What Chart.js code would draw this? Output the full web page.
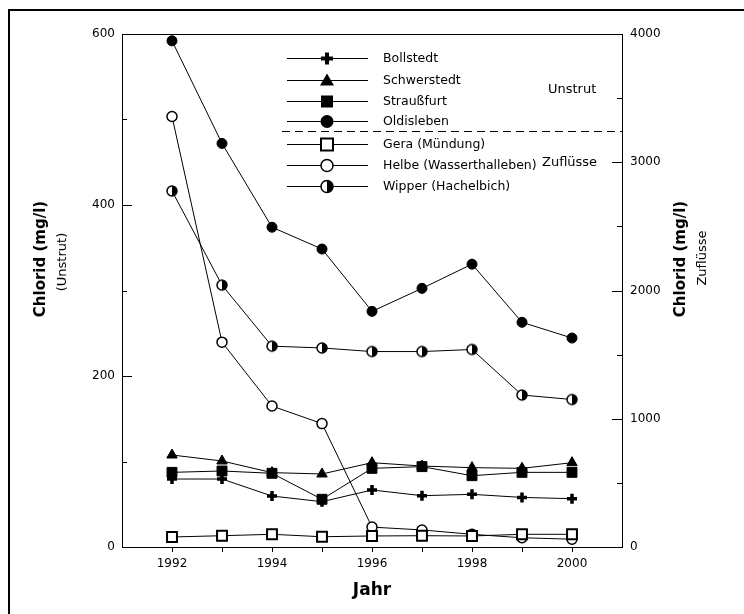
<!DOCTYPE html>
<html><head><meta charset="utf-8">
<script src="https://cdn.jsdelivr.net/npm/chart.js@4/dist/chart.umd.min.js"></script>
<style>html,body{margin:0;padding:0;background:#fff;}#wrap{position:relative;width:744px;height:614px;}</style>
</head><body><div id="wrap"><canvas id="c" width="744" height="614"></canvas></div>
<script>
// ---- data ----
const years = [1992, 1993, 1994, 1995, 1996, 1997, 1998, 1999, 2000];
const xTickLabels = [1992, 1994, 1996, 1998, 2000];
const leftTicks = [0, 200, 400, 600];
const rightTicks = [0, 1000, 2000, 3000, 4000];
// Unstrut (left axis, mg/l)
const bollstedt   = [79.5, 79.5, 59.6, 53, 66.7, 60, 61.6, 58, 56.5];
const schwerstedt = [107.6, 100.6, 87, 85.4, 98.6, 94.7, 92.8, 92, 98.6];
const straussfurt = [87.3, 88.9, 86.2, 55.8, 92, 94, 83.4, 87.3, 87.3];
const oldisleben  = [592, 472, 374, 348.5, 275.6, 302.5, 330.8, 262.8, 244.4];
// Zuflüsse (right axis, mg/l)
const gera   = [78, 88, 99, 80, 86, 88, 86, 99, 99];
const helbe  = [3357, 1597, 1099, 962, 155, 133, 99, 72, 61];
const wipper = [2776, 2042, 1566, 1552, 1524, 1524, 1540, 1185, 1150];

const FONT = "'DejaVu Sans', Verdana, sans-serif";

function halfCircle(r, lw) {
  const s = Math.ceil(2 * r + lw + 2);
  const c = document.createElement('canvas');
  c.width = s; c.height = s;
  const g = c.getContext('2d');
  const cx = s / 2;
  g.fillStyle = '#fff';
  g.beginPath(); g.arc(cx, cx, r, 0, 2 * Math.PI); g.fill();
  g.fillStyle = '#000';
  g.beginPath(); g.moveTo(cx, cx - r); g.arc(cx, cx, r, -Math.PI / 2, Math.PI / 2); g.closePath(); g.fill();
  g.lineWidth = lw; g.strokeStyle = '#000';
  g.beginPath(); g.arc(cx, cx, r, 0, 2 * Math.PI); g.stroke();
  return c;
}
const halfImg = halfCircle(5, 1.5);

function pts(arr) { return years.map((y, i) => ({ x: y, y: arr[i] })); }

const series = [
  { label: 'Bollstedt', data: bollstedt, axis: 'y', style: 'cross', r: 5, fill: '#000', bw: 3.5, mk: 'plus' },
  { label: 'Schwerstedt', data: schwerstedt, axis: 'y', style: 'triangle', r: 6, fill: '#000', bw: 1, mk: 'tri' },
  { label: 'Straußfurt', data: straussfurt, axis: 'y', style: 'rect', r: 7, fill: '#000', bw: 1, mk: 'sq' },
  { label: 'Oldisleben', data: oldisleben, axis: 'y', style: 'circle', r: 5, fill: '#000', bw: 1, mk: 'circ' },
  { label: 'Gera (Mündung)', data: gera, axis: 'y2', style: 'rect', r: 7, fill: '#fff', bw: 2, mk: 'sqo' },
  { label: 'Helbe (Wasserthalleben)', data: helbe, axis: 'y2', style: 'circle', r: 5, fill: '#fff', bw: 1.5, mk: 'circo' },
  { label: 'Wipper (Hachelbich)', data: wipper, axis: 'y2', style: halfImg, r: 6, fill: '#fff', bw: 1.5, mk: 'half' }
];

const datasets = series.map(s => ({
  label: s.label,
  data: pts(s.data),
  yAxisID: s.axis,
  borderColor: '#000',
  borderWidth: 1,
  backgroundColor: s.fill,
  pointStyle: s.style,
  pointRadius: s.r,
  pointBorderWidth: s.bw,
  pointBorderColor: '#000',
  pointBackgroundColor: s.fill,
  tension: 0,
  clip: false
}));

function drawMarker(ctx, type, x, y) {
  ctx.save();
  ctx.strokeStyle = '#000'; ctx.fillStyle = '#000';
  if (type === 'plus') {
    ctx.lineWidth = 4;
    ctx.beginPath(); ctx.moveTo(x - 6, y); ctx.lineTo(x + 6, y); ctx.moveTo(x, y - 6); ctx.lineTo(x, y + 6); ctx.stroke();
  } else if (type === 'tri') {
    ctx.beginPath(); ctx.moveTo(x, y - 7); ctx.lineTo(x + 7, y + 5); ctx.lineTo(x - 7, y + 5); ctx.closePath(); ctx.fill();
  } else if (type === 'sq') {
    ctx.fillRect(x - 6, y - 6, 12, 12);
  } else if (type === 'circ') {
    ctx.beginPath(); ctx.arc(x, y, 6.5, 0, 2 * Math.PI); ctx.fill();
  } else if (type === 'sqo') {
    ctx.fillStyle = '#fff'; ctx.lineWidth = 2;
    ctx.fillRect(x - 6, y - 6, 12, 12); ctx.strokeRect(x - 6, y - 6, 12, 12);
  } else if (type === 'circo') {
    ctx.fillStyle = '#fff'; ctx.lineWidth = 1.5;
    ctx.beginPath(); ctx.arc(x, y, 6, 0, 2 * Math.PI); ctx.fill(); ctx.stroke();
  } else if (type === 'half') {
    ctx.fillStyle = '#fff'; ctx.lineWidth = 1.5;
    ctx.beginPath(); ctx.arc(x, y, 6, 0, 2 * Math.PI); ctx.fill();
    ctx.fillStyle = '#000';
    ctx.beginPath(); ctx.moveTo(x, y - 6); ctx.arc(x, y, 6, -Math.PI / 2, Math.PI / 2); ctx.closePath(); ctx.fill();
    ctx.beginPath(); ctx.arc(x, y, 6, 0, 2 * Math.PI); ctx.stroke();
  }
  ctx.restore();
}

const decor = {
  id: 'decor',
  beforeDraw(chart) {
    const ctx = chart.ctx;
    ctx.save(); ctx.fillStyle = '#fff'; ctx.fillRect(0, 0, chart.width, chart.height); ctx.restore();
  },
  afterDraw(chart) {
    const ctx = chart.ctx;
    const a = chart.chartArea;
    const yl = chart.scales.y, yr = chart.scales.y2;
    ctx.save();
    // outer frame (left and top)
    ctx.fillStyle = '#000';
    ctx.fillRect(8, 9, 736, 2);
    ctx.fillRect(8, 9, 2, 605);
    // top border of plot
    ctx.strokeStyle = '#000'; ctx.lineWidth = 1;
    ctx.beginPath(); ctx.moveTo(a.left, Math.round(a.top) + 0.5); ctx.lineTo(a.right, Math.round(a.top) + 0.5); ctx.stroke();
    // inward ticks
    function inTicks(scale, ticks, x, dir) {
      ticks.forEach((v, i) => {
        const py = Math.round(scale.getPixelForValue(v)) + 0.5;
        ctx.beginPath(); ctx.moveTo(x, py); ctx.lineTo(x + dir * 10, py); ctx.stroke();
        if (i < ticks.length - 1) {
          const m = Math.round(scale.getPixelForValue((v + ticks[i + 1]) / 2)) + 0.5;
          ctx.beginPath(); ctx.moveTo(x, m); ctx.lineTo(x + dir * 5, m); ctx.stroke();
        }
      });
    }
    inTicks(yl, leftTicks, a.left, 1);
    inTicks(yr, rightTicks, a.right, -1);
    // axis titles
    ctx.fillStyle = '#000';
    ctx.textAlign = 'center'; ctx.textBaseline = 'middle';
    function vtext(t, x, y, font) {
      ctx.save(); ctx.translate(x, y); ctx.rotate(-Math.PI / 2); ctx.font = font; ctx.fillText(t, 0, 0); ctx.restore();
    }
    vtext('Chlorid (mg/l)', 41, 259, 'bold 15px ' + FONT);
    vtext('(Unstrut)', 63, 262, '13px ' + FONT);
    vtext('Chlorid (mg/l)', 681, 259, 'bold 15px ' + FONT);
    vtext('Zuflüsse', 703, 258, '13px ' + FONT);
    ctx.font = 'bold 17px ' + FONT;
    ctx.fillText('Jahr', (a.left + a.right) / 2, 591);
    // legend
    const rows = [58, 79.5, 100.5, 121, 144, 165, 186];
    ctx.textAlign = 'left';
    ctx.font = '12.5px ' + FONT;
    series.forEach((s, i) => {
      const y = rows[i];
      ctx.strokeStyle = '#000'; ctx.lineWidth = 1;
      ctx.beginPath(); ctx.moveTo(287, Math.round(y) + 0.5); ctx.lineTo(368, Math.round(y) + 0.5); ctx.stroke();
      drawMarker(ctx, s.mk, 327, Math.round(y) + 0.5);
      ctx.fillStyle = '#000';
      ctx.fillText(s.label, 383, y + 1);
    });
    // dashed separator
    ctx.setLineDash([8, 5]);
    ctx.beginPath(); ctx.moveTo(282, 131.5); ctx.lineTo(a.right, 131.5); ctx.stroke();
    ctx.setLineDash([]);
    ctx.font = '13px ' + FONT;
    ctx.fillText('Unstrut', 548, 90);
    ctx.fillText('Zuflüsse', 542, 163);
    ctx.restore();
  }
};

const tickFont = { family: FONT, size: 12 };

new Chart(document.getElementById('c'), {
  type: 'line',
  data: { datasets },
  options: {
    responsive: false,
    animation: false,
    devicePixelRatio: 1,
    layout: { padding: { top: 34, left: 0, right: 0, bottom: 0 } },
    plugins: { legend: { display: false }, tooltip: { enabled: false } },
    scales: {
      x: {
        type: 'linear', min: 1991, max: 2001,
        afterBuildTicks: s => { s.ticks = years.map(v => ({ value: v })); },
        afterFit: s => { s.height = 67; },
        ticks: {
          autoSkip: false, maxRotation: 0, padding: 5, color: '#000', font: tickFont,
          callback: v => xTickLabels.includes(v) ? String(v) : ''
        },
        grid: { drawOnChartArea: false, drawTicks: true, tickLength: 5, color: '#000', tickColor: '#000' },
        border: { color: '#000', width: 1 }
      },
      y: {
        position: 'left', min: 0, max: 600,
        afterBuildTicks: s => { s.ticks = leftTicks.map(v => ({ value: v })); },
        afterFit: s => { s.width = 122; },
        ticks: { padding: 7, color: '#000', font: tickFont, callback: v => String(v) },
        grid: { drawOnChartArea: false, drawTicks: false },
        border: { color: '#000', width: 1 }
      },
      y2: {
        position: 'right', min: 0, max: 4000,
        afterBuildTicks: s => { s.ticks = rightTicks.map(v => ({ value: v })); },
        afterFit: s => { s.width = 122; },
        ticks: { padding: 8, color: '#000', font: tickFont, callback: v => String(v) },
        grid: { drawOnChartArea: false, drawTicks: false },
        border: { color: '#000', width: 1 }
      }
    }
  },
  plugins: [decor]
});
</script>
</body></html>
